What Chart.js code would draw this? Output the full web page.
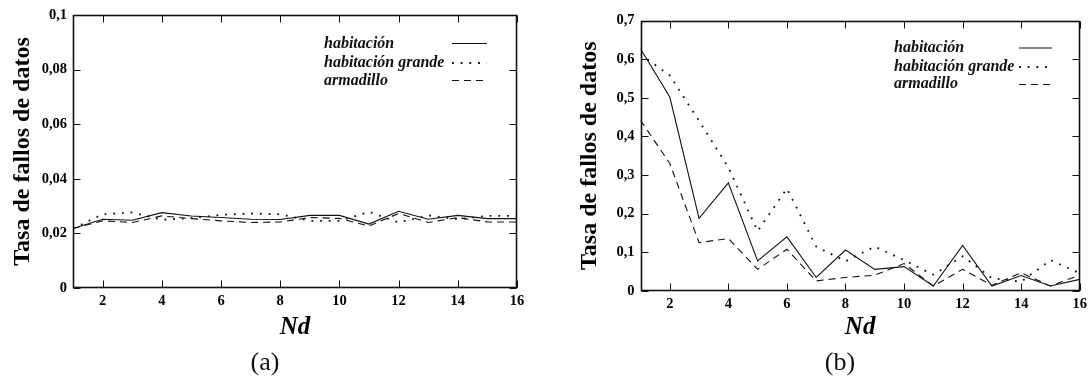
<!DOCTYPE html>
<html><head><meta charset="utf-8">
<script src="https://cdn.jsdelivr.net/npm/chart.js@4.4.1/dist/chart.umd.min.js"></script>
<style>
html,body{margin:0;padding:0;background:#fff;}
#wrap{position:relative;width:1092px;height:376px;overflow:hidden;background:#fff;}
.box{position:absolute;top:0;width:546px;height:376px;}
.box canvas{display:block;}
.cap{position:absolute;font-family:"Liberation Serif",serif;font-size:26px;color:#111;transform:translate(-50%,-50%);line-height:1;white-space:nowrap;}
</style></head><body>
<div id="wrap">
<div class="box" style="left:0"><canvas id="ca" width="546" height="376"></canvas></div>
<div class="box" style="left:546px"><canvas id="cb" width="546" height="376"></canvas></div>
<div class="cap" style="left:265px;top:362px">(a)</div>
<div class="cap" style="left:840px;top:362px">(b)</div>
</div>
<script>
// ---- data ----
const nd = [1,2,3,4,5,6,7,8,9,10,11,12,13,14,15,16];
const xTickValues = [2,4,6,8,10,12,14,16];
const seriesLabels = ['habitación', 'habitación grande', 'armadillo'];

// (a)
const habitacionA = [0.0218,0.0252,0.0248,0.0276,0.0264,0.0258,0.0252,0.0251,0.0266,0.0266,0.0234,0.0281,0.0252,0.0266,0.0254,0.0254];
const grandeA     = [0.0218,0.0270,0.0277,0.0250,0.0256,0.0268,0.0273,0.0270,0.0246,0.0246,0.0279,0.0240,0.0266,0.0252,0.0264,0.0264];
const armadilloA  = [0.0218,0.0246,0.0240,0.0264,0.0254,0.0246,0.0240,0.0242,0.0258,0.0255,0.0227,0.0273,0.0240,0.0258,0.0242,0.0242];
const yMaxA = 0.1, yStepA = 0.02;

// (b)
const habitacionB = [0.627,0.502,0.188,0.280,0.078,0.140,0.035,0.106,0.056,0.063,0.013,0.118,0.013,0.040,0.013,0.030];
const grandeB     = [0.612,0.558,0.440,0.320,0.155,0.265,0.115,0.077,0.115,0.080,0.042,0.090,0.033,0.024,0.080,0.046];
const armadilloB  = [0.442,0.330,0.125,0.136,0.056,0.108,0.026,0.035,0.041,0.071,0.013,0.056,0.015,0.047,0.013,0.041];
const yMaxB = 0.7, yStepB = 0.1;

// ---- styles ----
const INK = '#111';
const lineStyles = [
  {borderWidth: 1.1, borderDash: []},
  {borderWidth: 1.8, borderDash: [1.8, 6.9]},
  {borderWidth: 1.1, borderDash: [7, 5]}
];
const FAM = '"Liberation Serif", "Times New Roman", serif';

const framePlugin = {
  id: 'frame',
  afterDraw(chart, args, opts) {
    const {ctx, chartArea: a, scales} = chart;
    const L = Math.round(a.left) + 0.5, R = Math.round(a.right) - 0.5;
    const T = Math.round(a.top) + 0.5, B = Math.round(a.bottom) - 0.5;
    const tl = 7;
    ctx.save();
    ctx.strokeStyle = INK;
    ctx.lineWidth = 1;
    ctx.beginPath();
    scales.x.ticks.forEach(t => {
      const px = Math.round(scales.x.getPixelForValue(t.value)) + 0.5;
      ctx.moveTo(px, B); ctx.lineTo(px, B - tl);
      ctx.moveTo(px, T); ctx.lineTo(px, T + tl);
    });
    scales.y.ticks.forEach(t => {
      const py = Math.round(scales.y.getPixelForValue(t.value)) + 0.5;
      ctx.moveTo(L, py); ctx.lineTo(L + tl, py);
      ctx.moveTo(R, py); ctx.lineTo(R - tl, py);
    });
    ctx.stroke();
    ctx.lineWidth = 1.6;
    ctx.strokeRect(L, T, R - L, B - T);
    // legend
    ctx.font = 'italic bold 16px ' + FAM;
    ctx.textBaseline = 'middle';
    ctx.textAlign = 'left';
    ctx.fillStyle = INK;
    chart.data.datasets.forEach((ds, i) => {
      const ty = opts.rows[i];
      ctx.fillText(ds.label, opts.textX, ty);
      ctx.beginPath();
      ctx.lineWidth = ds.borderWidth;
      ctx.setLineDash(ds.borderDash);
      ctx.moveTo(opts.lineX1, opts.lineRows[i]);
      ctx.lineTo(opts.lineX2, opts.lineRows[i]);
      ctx.stroke();
      ctx.setLineDash([]);
    });
    ctx.restore();
  }
};

function fmt(v) { return String(+v.toFixed(3)).replace('.', ','); }

function makeChart(id, series, yMax, yStep, g) {
  const datasets = series.map((arr, i) => ({
    label: seriesLabels[i],
    data: nd.map((x, k) => ({x: x, y: arr[k]})),
    borderColor: INK,
    borderWidth: lineStyles[i].borderWidth,
    borderDash: lineStyles[i].borderDash,
    pointRadius: 0,
    tension: 0,
    fill: false
  }));
  return new Chart(document.getElementById(id), {
    type: 'line',
    data: {datasets},
    options: {
      responsive: false,
      animation: false,
      devicePixelRatio: 1,
      layout: {padding: g.padding},
      plugins: {
        legend: {display: false},
        tooltip: {enabled: false},
        frame: g.legend
      },
      scales: {
        x: {
          type: 'linear', min: 1, max: 16,
          afterBuildTicks: s => { s.ticks = xTickValues.map(v => ({value: v})); },
          afterFit: s => { s.height = g.xh; },
          grid: {display: false, drawTicks: false},
          border: {display: false},
          ticks: {padding: 5, color: '#000', font: {family: FAM, size: 14.5, weight: 'bold'}, maxRotation: 0, autoSkip: false},
          title: {display: true, text: 'Nd', color: '#000', padding: {top: 0, bottom: g.ntPad},
                  font: {family: FAM, size: 25, weight: 'bold', style: 'italic'}}
        },
        y: {
          min: 0, max: yMax,
          afterFit: s => { s.width = g.yw; },
          grid: {display: false, drawTicks: false},
          border: {display: false},
          ticks: {stepSize: yStep, padding: 6, color: '#000', callback: fmt,
                  font: {family: FAM, size: 14.5, weight: 'bold'}},
          title: {display: true, text: 'Tasa de fallos de datos', color: '#000', padding: {top: g.ytPad, bottom: 0},
                  font: {family: FAM, size: 24, weight: 'bold'}}
        }
      }
    },
    plugins: [framePlugin]
  });
}

makeChart('ca', [habitacionA, grandeA, armadilloA], yMaxA, yStepA, {
  padding: {left: 0, top: 15, right: 29, bottom: 28},
  yw: 73, xh: 60, ntPad: 5.5, ytPad: 8,
  legend: {textX: 324, lineX1: 452, lineX2: 487, rows: [44, 62.7, 81], lineRows: [43.5, 63, 80.5]}
});
makeChart('cb', [habitacionB, grandeB, armadilloB], yMaxB, yStepB, {
  padding: {left: 0, top: 20.5, right: 6, bottom: 25},
  yw: 94.5, xh: 60, ntPad: 8, ytPad: 29,
  legend: {textX: 348, lineX1: 473, lineX2: 506, rows: [48.3, 66.7, 84.3], lineRows: [48, 67, 84.5]}
});
</script>
</body></html>
